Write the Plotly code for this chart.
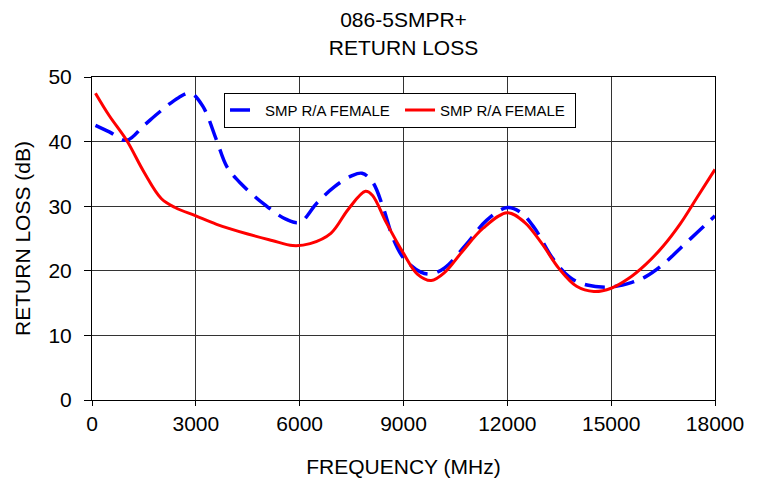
import plotly.graph_objects as go

blue_x = [100, 500, 1000, 1500, 2000, 2500, 2850, 3200, 3600, 3900, 4300, 5000, 5600, 6000,
          6500, 7000, 7500, 7800, 8100, 8400, 8700, 9000, 9500, 9800, 10200, 10800, 11400,
          12000, 12400, 12800, 13300, 13800, 14300, 15000, 15600, 16000, 16500, 17000, 17500, 18000]
blue_y = [42.5, 41.5, 40.2, 42.5, 44.8, 46.8, 47.5, 45.5, 40.2, 36.1, 33.5, 30.2, 28.0, 27.5,
          30.5, 33.0, 34.7, 35.1, 33.8, 30.0, 25.0, 22.0, 19.8, 19.5, 20.5, 24.0, 27.8,
          29.8, 29.0, 26.5, 22.0, 19.0, 17.8, 17.5, 18.2, 19.1, 21.0, 23.5, 26.0, 28.5]

red_x = [100, 500, 1000, 1500, 2000, 2400, 3000, 3600, 4500, 5200, 5800, 6300, 6900, 7400,
         7900, 8100, 8500, 9000, 9400, 9800, 10200, 10700, 11300, 12000, 12500, 13000, 13500,
         14000, 14500, 15000, 15500, 16000, 16500, 17000, 17500, 18000]
red_y = [47.5, 44.0, 40.2, 35.3, 31.2, 29.8, 28.5, 27.2, 25.7, 24.7, 23.9, 24.2, 25.8, 29.5,
         32.3, 31.7, 27.5, 22.7, 19.5, 18.5, 19.8, 23.0, 26.6, 29.0, 27.5, 24.2, 20.3,
         17.6, 16.8, 17.3, 18.8, 21.0, 23.8, 27.3, 31.5, 35.7]

series_names = ["SMP R/A FEMALE", "SMP R/A FEMALE"]
x_ticks = [0, 3000, 6000, 9000, 12000, 15000, 18000]
y_ticks = [0, 10, 20, 30, 40, 50]

FONT = "Liberation Sans, Arial, sans-serif"

fig = go.Figure()
fig.add_trace(go.Scatter(x=blue_x, y=blue_y, mode="lines", name=series_names[0],
                         line=dict(color="#0000FF", width=3.5, dash="20px,10px", shape="spline", smoothing=1.0)))
fig.add_trace(go.Scatter(x=red_x, y=red_y, mode="lines", name=series_names[1],
                         line=dict(color="#FF0000", width=3, shape="spline", smoothing=1.0)))

fig.update_layout(
    width=760, height=480,
    paper_bgcolor="white", plot_bgcolor="white",
    margin=dict(l=84, r=53, t=69, b=88, autoexpand=False),
    font=dict(family=FONT, color="black", size=21),
    title=dict(text="086-5SMPR+<br>RETURN LOSS", x=0.5, xanchor="center", xref="paper",
               yref="container", y=0.96, yanchor="middle", font=dict(size=21, family=FONT)),
    showlegend=True,
    legend=dict(orientation="h", x=0.2119, y=0.951, xanchor="left", yanchor="top",
                bgcolor="white", bordercolor="black", borderwidth=1,
                font=dict(size=15, family=FONT), itemwidth=30, tracegroupgap=0,
                entrywidth=130),
)
fig.update_xaxes(range=[0, 18000], tickvals=x_ticks, ticktext=[str(v) for v in x_ticks],
                 showgrid=True, gridcolor="#333333", gridwidth=1, automargin=False,
                 showline=True, linecolor="black", linewidth=1, mirror=True,
                 ticks="outside", ticklen=5, tickcolor="black", zeroline=False,
                 tickfont=dict(size=21), title=dict(text="FREQUENCY (MHz)", font=dict(size=21), standoff=25))
fig.update_yaxes(range=[0, 50], tickvals=y_ticks, showgrid=True, gridcolor="#333333", gridwidth=1,
                 automargin=False, ticklabelstandoff=8,
                 showline=True, linecolor="black", linewidth=1, mirror=True,
                 ticks="outside", ticklen=7, tickcolor="black", zeroline=False,
                 tickfont=dict(size=21), title=dict(text="RETURN LOSS (dB)", font=dict(size=21), standoff=12))

fig.write_html("out.html")
